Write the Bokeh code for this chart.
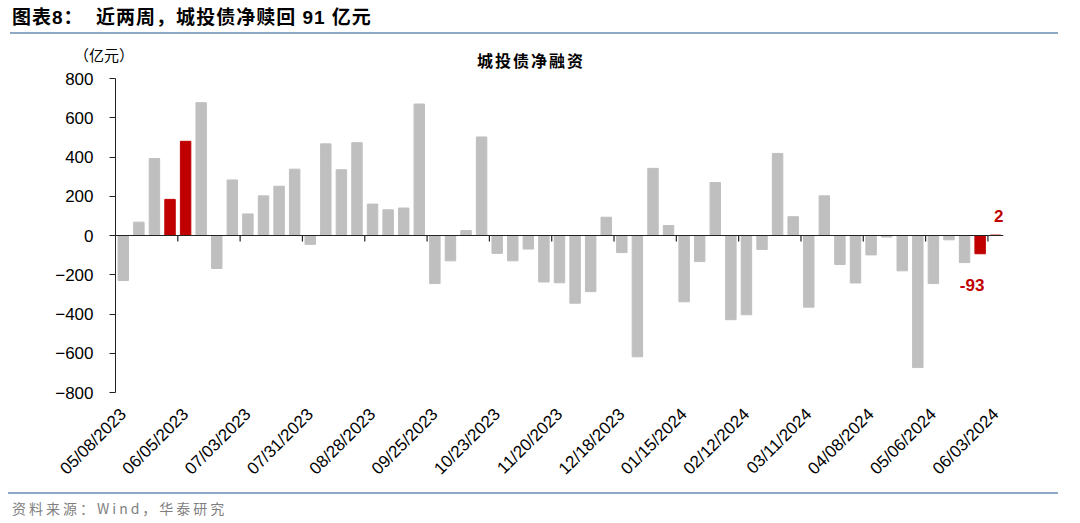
import math
from bokeh.plotting import figure
from bokeh.models import (ColumnDataSource, FixedTicker, Range1d, Span, Div)
from bokeh.layouts import column
from bokeh.core.properties import value
from bokeh.embed import file_html
from bokeh.resources import INLINE

# ---------------- data ----------------
net_financing = [
    -229, 68, 392, 184, 480, 677, -168, 283, 110, 202,
    251, 338, -45, 467, 335, 473, 160, 131, 140, 670,
    -245, -129, 25, 502, -91, -129, -69, -237, -241, -345,
    -286, 93, -87, -618, 342, 51, -338, -133, 270, -429,
    -404, -71, 418, 96, -365, 202, -148, -242, -99, -8,
    -180, -673, -245, -22, -138, -93, 2,
]
highlight_idx = [3, 4, 55, 56]
tick_labels = [
    "05/08/2023", "06/05/2023", "07/03/2023", "07/31/2023", "08/28/2023",
    "09/25/2023", "10/23/2023", "11/20/2023", "12/18/2023", "01/15/2024",
    "02/12/2024", "03/11/2024", "04/08/2024", "05/06/2024", "06/03/2024",
]
label_every = 4
y_ticks = [-800, -600, -400, -200, 0, 200, 400, 600, 800]
annotated_idx = [56, 55]
annotated_text = ["2", "-93"]

GRAY = "#BFBFBF"
RED = "#C00000"
LINE_BLUE = "#8EA9C4"

n = len(net_financing)
xs = list(range(n))
colors = [RED if i in highlight_idx else GRAY for i in xs]
src = ColumnDataSource(dict(x=xs, top=net_financing, color=colors))

# ---------------- figure ----------------
p = figure(width=1080, height=418, output_backend="svg", toolbar_location=None,
           x_range=Range1d(-0.5, n - 0.5), y_range=Range1d(y_ticks[0], y_ticks[-1]),
           min_border_left=115, min_border_right=77, min_border_top=8, min_border_bottom=93)
p.outline_line_color = None
p.xgrid.visible = False
p.ygrid.visible = False
p.background_fill_color = "white"
p.border_fill_color = "white"

p.vbar(x="x", top="top", bottom=0, width=0.67, color="color", source=src)

# zero line
p.add_layout(Span(location=0, dimension="width", line_color="#222222", line_width=1.2))

# group separator ticks on the zero line (pointing down)
sep = [i - 0.5 for i in range(label_every, n, label_every)]
px_per_unit = 317.0 / (y_ticks[-1] - y_ticks[0])
tick_len_units = 6 / px_per_unit
p.segment(x0=sep, y0=[0] * len(sep), x1=sep, y1=[-tick_len_units] * len(sep),
          line_color="#222222", line_width=1.2)

# y axis
ya = p.yaxis[0]
ya.ticker = FixedTicker(ticks=y_ticks)
ya.major_tick_out = 6
ya.major_tick_in = 0
ya.minor_tick_out = 0
ya.minor_tick_in = 0
ya.axis_line_color = "#222222"
ya.major_tick_line_color = "#222222"
ya.major_label_text_font = "Liberation Sans"
ya.major_label_text_font_size = "17px"
ya.major_label_text_color = "#000000"
ya.major_label_standoff = 16

# x axis (labels only)
xa = p.xaxis[0]
lab_pos = list(range(0, n, label_every))
xa.ticker = FixedTicker(ticks=lab_pos)
xa.major_label_overrides = {pos: lab for pos, lab in zip(lab_pos, tick_labels)}
xa.axis_line_color = None
xa.major_tick_line_color = None
xa.minor_tick_line_color = None
xa.major_tick_out = 0
xa.major_tick_in = 0
xa.major_label_orientation = math.pi / 4
xa.major_label_text_font = "Liberation Sans"
xa.major_label_text_font_size = "17px"
xa.major_label_text_color = "#000000"
xa.major_label_standoff = 19

# data labels for the latest two weeks
ann_x = annotated_idx
ann_y = [net_financing[i] for i in annotated_idx]
p.text(x=[ann_x[0]], y=[ann_y[0]], text=[annotated_text[0]], x_offset=3, y_offset=-19,
       text_align="center", text_baseline="middle", text_color=RED,
       text_font=value("Liberation Sans"), text_font_style="bold", text_font_size="17px")
p.text(x=[ann_x[1]], y=[ann_y[1]], text=[annotated_text[1]], x_offset=-8, y_offset=31,
       text_align="center", text_baseline="middle", text_color=RED,
       text_font=value("Liberation Sans"), text_font_style="bold", text_font_size="17px")

# ---------------- header / footer ----------------
top_html = f"""
<div style="position:relative;width:1080px;height:70px;font-family:'Liberation Sans','Noto Sans CJK SC',sans-serif;color:#000;">
  <div style="position:absolute;left:12px;top:7px;font-size:19px;font-weight:bold;letter-spacing:1px;white-space:nowrap;line-height:22px;">图表8：&nbsp;&nbsp;近两周，城投债净赎回 91 亿元</div>
  <div style="position:absolute;left:10px;top:32px;width:1048px;height:2px;background:{LINE_BLUE};"></div>
  <div style="position:absolute;left:74px;top:45px;font-size:15px;line-height:20px;white-space:nowrap;font-family:'Noto Sans CJK SC';">（亿元）</div>
  <div style="position:absolute;left:477px;top:49px;font-size:16px;font-weight:bold;letter-spacing:2px;line-height:22px;white-space:nowrap;font-family:'Noto Sans CJK SC';">城投债净融资</div>
</div>
"""
bottom_html = f"""
<div style="position:relative;width:1080px;height:35px;">
  <div style="position:absolute;left:8px;top:4px;width:1050px;height:2px;background:{LINE_BLUE};"></div>
  <div style="position:absolute;left:12px;top:10px;font-size:14px;line-height:20px;color:#7F7F7F;letter-spacing:3px;white-space:nowrap;font-family:'Noto Sans CJK SC',sans-serif;">资料来源：Wind，华泰研究</div>
</div>
"""
top_div = Div(text=top_html, width=1080, height=70, margin=0)
bottom_div = Div(text=bottom_html, width=1080, height=35, margin=0)

layout = column(top_div, p, bottom_div, spacing=0, margin=0)
open("out.html", "w").write(file_html(layout, INLINE))
